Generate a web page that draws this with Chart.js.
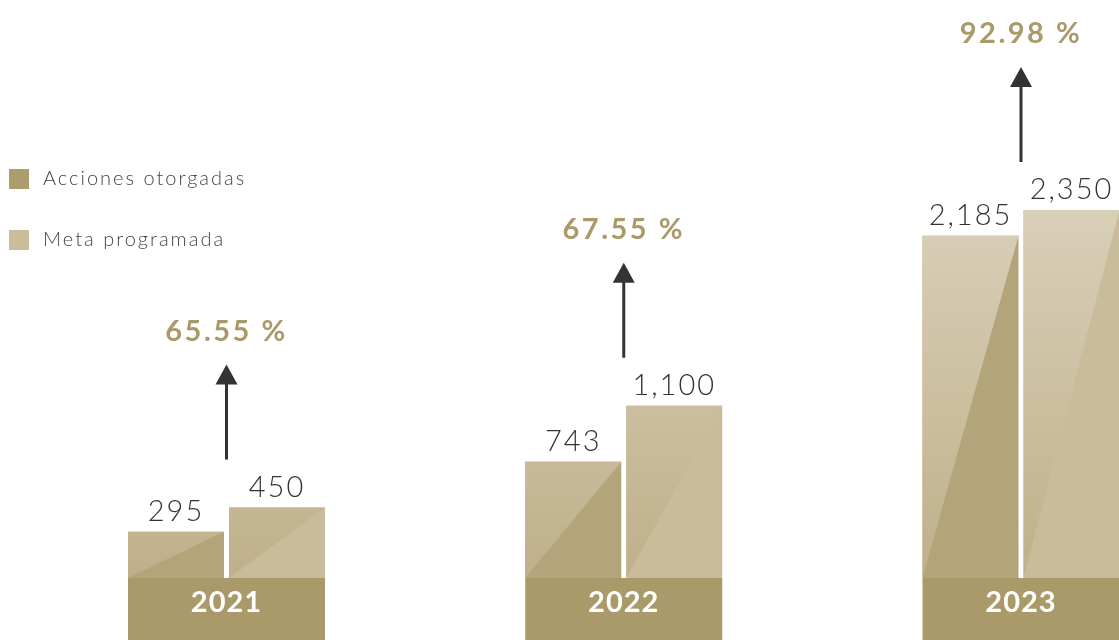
<!DOCTYPE html>
<html>
<head>
<meta charset="utf-8">
<script src="https://cdn.jsdelivr.net/npm/chart.js@4.4.1/dist/chart.umd.min.js"></script>
<style>
  html, body { margin: 0; padding: 0; background: #fff; }
  #wrap { width: 1119px; height: 640px; position: relative; }
</style>
</head>
<body>
<div id="wrap"><canvas id="chart"></canvas></div>
<script>
const anni = ["2021", "2022", "2023"];
const acciones = [295, 743, 2185];
const meta = [450, 1100, 2350];
const cumplimiento = [65.55, 67.55, 92.98];

const ORO = "#ab9a69";
const FONT = "'Lato', 'Open Sans', sans-serif";

// parte alta-sinistra delle barre, più chiara in alto
const pluginTriangoli = {
  id: "triangoli",
  afterDatasetsDraw(chart) {
    const ctx = chart.ctx;
    const y = chart.scales.y;
    const grad = ctx.createLinearGradient(0, y.getPixelForValue(2400), 0, y.getPixelForValue(0));
    grad.addColorStop(0, "#d9d0b9");
    grad.addColorStop(1, "#bfb08a");
    chart.data.datasets.forEach((ds, di) => {
      chart.getDatasetMeta(di).data.forEach(bar => {
        const l = bar.x - bar.width / 2;
        const r = bar.x + bar.width / 2;
        ctx.save();
        ctx.fillStyle = grad;
        ctx.beginPath();
        ctx.moveTo(l, bar.base);
        ctx.lineTo(r, bar.y);
        ctx.lineTo(l, bar.y);
        ctx.closePath();
        ctx.fill();
        ctx.restore();
      });
    });
  }
};

const pluginEtichette = {
  id: "etichette",
  beforeDraw(chart) {
    // box degli anni sotto le barre
    const ctx = chart.ctx;
    const x = chart.scales.x;
    const area = chart.chartArea;
    ctx.save();
    anni.forEach((anno, i) => {
      const cx = x.getPixelForTick(i);
      ctx.fillStyle = ORO;
      ctx.fillRect(cx - 98.5, area.bottom, 197, chart.height - area.bottom);
      ctx.fillStyle = "#ffffff";
      ctx.font = "bold 29px " + FONT;
      ctx.letterSpacing = "1px";
      ctx.textAlign = "center";
      ctx.textBaseline = "middle";
      ctx.fillText(anno, cx, area.bottom + 25);
    });
    ctx.restore();
  },
  afterDraw(chart) {
    const ctx = chart.ctx;
    const x = chart.scales.x;
    ctx.save();

    // valori sopra le barre
    ctx.font = "300 29px " + FONT;
    ctx.letterSpacing = "2px";
    ctx.fillStyle = "#333333";
    ctx.textAlign = "center";
    ctx.textBaseline = "middle";
    chart.data.datasets.forEach((ds, di) => {
      chart.getDatasetMeta(di).data.forEach((bar, i) => {
        ctx.fillText(ds.data[i].toLocaleString("en-US"), bar.x, bar.y - 20);
      });
    });

    // frecce e percentuali
    anni.forEach((anno, i) => {
      const cx = x.getPixelForTick(i);
      const top = Math.min(chart.getDatasetMeta(0).data[i].y, chart.getDatasetMeta(1).data[i].y);
      const base = top - 48;
      const tip = base - 95;
      ctx.strokeStyle = "#333333";
      ctx.fillStyle = "#333333";
      ctx.lineWidth = 3;
      ctx.beginPath();
      ctx.moveTo(cx, base);
      ctx.lineTo(cx, tip + 15);
      ctx.stroke();
      ctx.beginPath();
      ctx.moveTo(cx, tip);
      ctx.lineTo(cx + 11, tip + 20);
      ctx.lineTo(cx - 11, tip + 20);
      ctx.closePath();
      ctx.fill();

      ctx.fillStyle = ORO;
      ctx.font = "bold 29px " + FONT;
      ctx.letterSpacing = "2.5px";
      ctx.fillText(cumplimiento[i].toFixed(2) + " %", cx, tip - 33);
    });

    // legenda
    ctx.textAlign = "left";
    ctx.font = "300 20px " + FONT;
    ctx.letterSpacing = "2px";
    chart.data.datasets.forEach((ds, di) => {
      const ly = 169 + di * 61;
      ctx.fillStyle = ds.legendColor;
      ctx.fillRect(9, ly, 20, 20);
      ctx.fillStyle = "#444444";
      ctx.fillText(ds.label, 43, ly + 10);
    });
    ctx.restore();
  }
};

new Chart(document.getElementById("chart"), {
  type: "bar",
  data: {
    labels: anni,
    datasets: [
      {
        label: "Acciones otorgadas",
        data: acciones,
        backgroundColor: "#b3a47a",
        legendColor: "#ad9c6c",
        clip: false
      },
      {
        label: "Meta programada",
        data: meta,
        backgroundColor: "#c9bc9a",
        legendColor: "#cabd9b",
        clip: false
      }
    ]
  },
  options: {
    responsive: true,
    maintainAspectRatio: false,
    animation: false,
    categoryPercentage: 0.5085,
    barPercentage: 0.9505,
    layout: {
      padding: { left: 226.5, right: 98, top: 0, bottom: 62 }
    },
    plugins: {
      legend: { display: false },
      tooltip: { enabled: false }
    },
    scales: {
      x: {
        display: false,
        offset: false
      },
      y: {
        display: false,
        min: 0,
        max: 3691
      }
    }
  },
  plugins: [pluginTriangoli, pluginEtichette]
});
</script>
</body>
</html>
